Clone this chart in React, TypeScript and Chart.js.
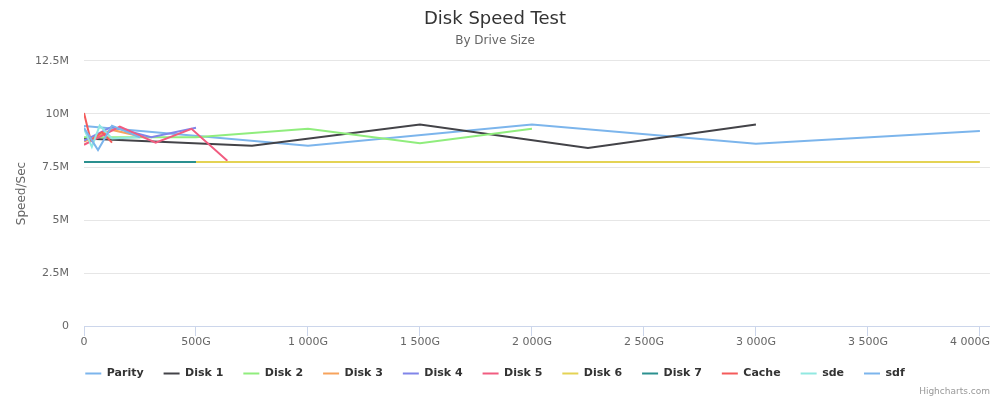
import React, { useEffect, useRef } from "react";
import { Chart, registerables } from "chart.js";

Chart.register(...registerables);

const FONT = "DejaVu Sans";

const seriesNames = ["Parity", "Disk 1", "Disk 2", "Disk 3", "Disk 4", "Disk 5", "Disk 6", "Disk 7", "Cache", "sde", "sdf"];
const seriesColors = ["#7cb5ec", "#434348", "#90ed7d", "#f7a35c", "#8085e9", "#f15c80", "#e4d354", "#2b908f", "#f45b5b", "#91e8e1", "#7cb5ec"];

// [drive size in G, speed in M/sec]
const parity = [[0, 9.43], [1000, 8.5], [2000, 9.5], [3000, 8.6], [4000, 9.2]];
const disk1 = [[0, 8.85], [750, 8.5], [1500, 9.5], [2250, 8.4], [3000, 9.5]];
const disk2 = [[0, 8.9], [500, 8.9], [1000, 9.3], [1500, 8.62], [2000, 9.3]];
const disk3 = [[0, 8.7], [125, 9.25], [250, 8.95]];
const disk4 = [[0, 8.75], [125, 9.4], [300, 8.9], [500, 9.35]];
const disk5 = [[0, 8.55], [160, 9.4], [320, 8.65], [480, 9.3], [640, 7.8]];
const disk6 = [[0, 7.73], [4000, 7.73]];
const disk7 = [[0, 7.73], [500, 7.73]];
const cache = [[0, 10.05], [30, 8.75], [80, 9.15], [125, 8.65]];
const sde = [[0, 9.3], [35, 8.45], [70, 9.45], [125, 8.85], [250, 8.9]];
const sdf = [[0, 9.35], [62.5, 8.3], [125, 9.45], [250, 8.9]];

const seriesData = [parity, disk1, disk2, disk3, disk4, disk5, disk6, disk7, cache, sde, sdf];

const xTickValues = [0, 500, 1000, 1500, 2000, 2500, 3000, 3500, 4000];
const xTickLabels = ["0", "500G", "1 000G", "1 500G", "2 000G", "2 500G", "3 000G", "3 500G", "4 000G"];
const yTickValues = [0, 2.5, 5, 7.5, 10, 12.5];
const yTickLabels = ["0", "2.5M", "5M", "7.5M", "10M", "12.5M"];

// keep the last x label inside the chart, as the original does
const justifyLastLabel = {
  id: "justifyLastLabel",
  beforeDraw(chart: any) {
    const scale = chart.scales.x;
    if (!scale) return;
    const items = scale.getLabelItems(chart.chartArea);
    const last = items[items.length - 1];
    if (last && last.options && last.options.translation) {
      last.options.textAlign = "right";
      last.options.translation[0] = chart.width - 10;
    }
  },
};

export default function App() {
  const ref = useRef<HTMLCanvasElement | null>(null);

  useEffect(() => {
    if (!ref.current) return;
    const chart = new Chart(ref.current, {
      type: "line",
      data: {
        datasets: seriesNames.map((name, i) => ({
          label: name,
          data: seriesData[i].map(([x, y]) => ({ x, y })),
          borderColor: seriesColors[i],
          backgroundColor: seriesColors[i],
          borderWidth: 2,
          pointRadius: 0,
          tension: 0,
          fill: false,
          order: -i,
        })),
      },
      options: {
        responsive: false,
        animation: false,
        layout: { padding: { left: 0, right: 10, top: 0, bottom: 11 } },
        plugins: {
          title: {
            display: true,
            text: "Disk Speed Test",
            color: "#333333",
            font: { family: FONT, size: 18, weight: "normal" },
            padding: { top: 9, bottom: 3 },
          },
          subtitle: {
            display: true,
            text: "By Drive Size",
            color: "#666666",
            font: { family: FONT, size: 12, weight: "normal" },
            padding: { top: 0, bottom: 13 },
          },
          legend: {
            position: "bottom",
            labels: {
              boxWidth: 16,
              boxHeight: 2,
              padding: 20,
              color: "#333333",
              font: { family: FONT, size: 11, weight: "bold" },
              generateLabels: (c: any) => {
                const items = Chart.defaults.plugins.legend.labels.generateLabels(c);
                items.forEach((it: any) => {
                  it.lineWidth = 0;
                  it.fillStyle = it.strokeStyle;
                });
                return items.sort((a: any, b: any) => a.datasetIndex - b.datasetIndex);
              },
            },
          },
          tooltip: { enabled: false },
        },
        scales: {
          x: {
            type: "linear",
            min: 0,
            max: 4045,
            afterBuildTicks: (s: any) => {
              s.ticks = xTickValues.map((v) => ({ value: v }));
            },
            afterFit: (s: any) => {
              s.height = 22;
            },
            ticks: {
              color: "#666666",
              font: { family: FONT, size: 11 },
              padding: 0,
              maxRotation: 0,
              autoSkip: false,
              callback: (v: any) => {
                const idx = xTickValues.indexOf(Number(v));
                return idx >= 0 ? xTickLabels[idx] : "";
              },
            },
            grid: {
              display: true,
              drawOnChartArea: false,
              drawTicks: true,
              tickLength: 10,
              color: "#ccd6eb",
              lineWidth: 1,
            },
            border: { display: true, color: "#ccd6eb", width: 1 },
          },
          y: {
            type: "linear",
            min: 0,
            max: 12.5,
            afterBuildTicks: (s: any) => {
              s.ticks = yTickValues.map((v) => ({ value: v }));
            },
            afterFit: (s: any) => {
              s.width = 84;
            },
            ticks: {
              color: "#666666",
              font: { family: FONT, size: 11 },
              padding: 15,
              callback: (v: any) => {
                const idx = yTickValues.indexOf(Number(v));
                return idx >= 0 ? yTickLabels[idx] : "";
              },
            },
            grid: { color: "#e6e6e6", drawTicks: false, lineWidth: 1 },
            border: { display: false },
            title: {
              display: true,
              text: "Speed/Sec",
              color: "#666666",
              font: { family: FONT, size: 12 },
              padding: { top: 15, bottom: 0 },
            },
          },
        },
      },
      plugins: [justifyLastLabel],
    } as any);
    return () => chart.destroy();
  }, []);

  return (
    <div style={{ position: "fixed", left: 0, top: 0, width: 1000, height: 400, background: "#ffffff" }}>
      <canvas ref={ref} width={1000} height={400} style={{ display: "block" }} />
      <div
        style={{
          position: "absolute",
          right: 10,
          top: 386,
          fontFamily: FONT,
          fontSize: 9,
          color: "#999999",
          lineHeight: "11px",
        }}
      >
        Highcharts.com
      </div>
    </div>
  );
}
